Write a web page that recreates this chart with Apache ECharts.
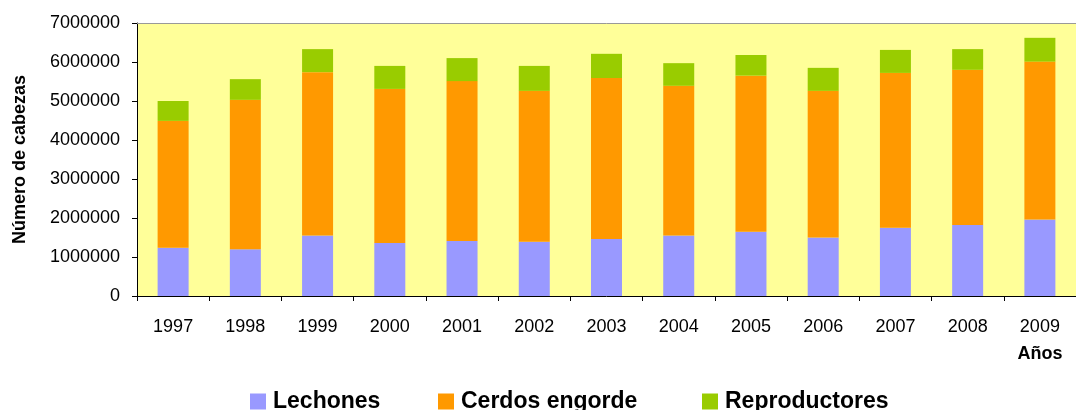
<!DOCTYPE html>
<html>
<head>
<meta charset="utf-8">
<script src="https://cdn.jsdelivr.net/npm/echarts@6/dist/echarts.min.js"></script>
<style>
  html, body { margin: 0; padding: 0; background: #fff; }
  #chart { width: 1076px; height: 410px; }
</style>
</head>
<body>
<div id="chart"></div>
<script>
// años
const years = ['1997', '1998', '1999', '2000', '2001', '2002', '2003', '2004', '2005', '2006', '2007', '2008', '2009']
// valores
const lechones = [1240000, 1200000, 1550000, 1360000, 1410000, 1390000, 1460000, 1550000, 1650000, 1500000, 1750000, 1820000, 1960000]
const cerdosEngorde = [3250000, 3830000, 4190000, 3950000, 4100000, 3870000, 4130000, 3840000, 4000000, 3760000, 3970000, 3980000, 4050000]
const reproductores = [510000, 530000, 590000, 590000, 590000, 640000, 620000, 580000, 530000, 590000, 590000, 530000, 610000]

const font = 'Liberation Sans, Arial, sans-serif'
const colors = ['#9999FF', '#FF9900', '#99CC00']
const names = ['Lechones', 'Cerdos engorde', 'Reproductores']

const myChart = echarts.init(document.getElementById('chart'))

// una leyenda por serie para fijar las posiciones
const legendLefts = [250, 438, 702]
const legends = names.map((n, i) => ({
  data: [n],
  left: legendLefts[i],
  top: 390,
  itemWidth: 16,
  itemHeight: 16,
  icon: 'rect',
  padding: 0,
  textStyle: { fontFamily: font, fontSize: 23, fontWeight: 'bold', color: '#000', padding: [0, 0, 0, 2] }
}))

const option = {
  animation: false,
  color: colors,
  legend: legends,
  grid: {
    left: 137,
    right: 0,
    top: 23,
    bottom: 114,
    show: true,
    backgroundColor: '#FFFF99',
    borderWidth: 0
  },
  xAxis: [
    {
      type: 'category',
      data: years,
      axisLine: { lineStyle: { color: '#000', width: 1 } },
      axisTick: { show: true, length: 5, lineStyle: { color: '#000' } },
      axisLabel: { color: '#000', fontFamily: font, fontSize: 18, margin: 22 }
    },
    {
      // borde superior gris
      type: 'category',
      position: 'top',
      data: years,
      axisLine: { lineStyle: { color: '#999', width: 1 } },
      axisTick: { show: false },
      axisLabel: { show: false }
    }
  ],
  yAxis: {
    type: 'value',
    min: 0,
    max: 7000000,
    interval: 1000000,
    name: 'Número de cabezas',
    nameLocation: 'middle',
    nameGap: 108,
    nameTextStyle: { fontFamily: font, fontSize: 18, fontWeight: 'bold', color: '#000' },
    axisLine: { show: true, lineStyle: { color: '#000' } },
    axisTick: { show: true, length: 5, lineStyle: { color: '#000' } },
    splitLine: { show: false },
    axisLabel: {
      color: '#000',
      fontFamily: font,
      fontSize: 18,
      margin: 17,
      formatter: (v) => String(v)
    }
  },
  graphic: [
    {
      type: 'text',
      x: 1040,
      y: 354,
      style: {
        text: 'Años',
        fontFamily: font,
        fontSize: 18,
        fontWeight: 'bold',
        fill: '#000',
        align: 'center',
        verticalAlign: 'middle'
      }
    }
  ],
  series: [
    { name: names[0], type: 'bar', stack: 'total', barWidth: 31, data: lechones },
    { name: names[1], type: 'bar', stack: 'total', barWidth: 31, data: cerdosEngorde },
    { name: names[2], type: 'bar', stack: 'total', barWidth: 31, data: reproductores }
  ]
}
myChart.setOption(option)
</script>
</body>
</html>
